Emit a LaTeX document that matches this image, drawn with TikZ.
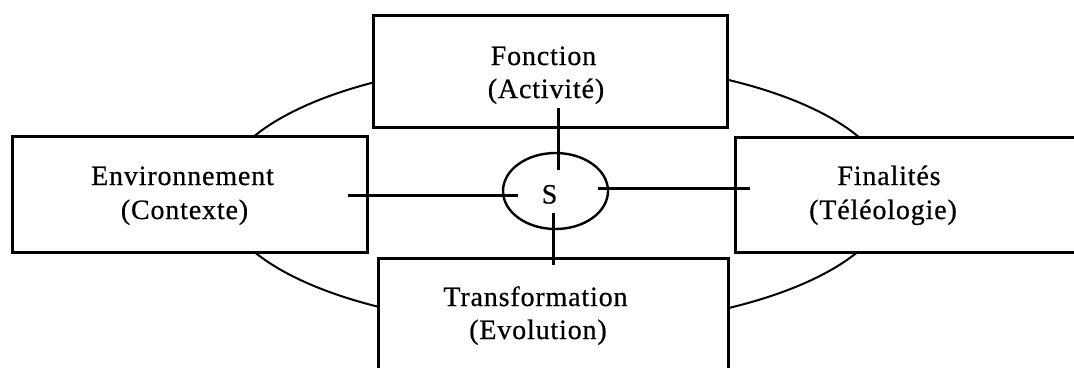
\documentclass[tikz,border=0pt]{standalone}
\usepackage{fontspec}
\setmainfont{Liberation Serif}[LetterSpace=3,FakeBold=0.6]
\usetikzlibrary{shapes.geometric}
\begin{document}
\begin{tikzpicture}[x=1pt,y=-1pt,
  boxline/.style={draw=black,line width=3pt,fill=white},
  bigring/.style={draw=black,line width=2pt},
  link/.style={draw=black,line width=3pt},
  lbl/.style={anchor=base,inner sep=0pt,font=\fontsize{28}{34}\selectfont}]
\useasboundingbox (0,0) rectangle (1074,367);
\clip (0,0) rectangle (1074,367);
\fill[white] (0,0) rectangle (1074,367);
% outer ellipse
\node[bigring,ellipse,minimum width=670pt,minimum height=266pt,inner sep=0pt] (ring) at (556,194) {};
% boxes
\draw[boxline] (12.7,136.7) rectangle (367,252) node[pos=0.5] (env) {};
\draw[boxline] (373.5,15) rectangle (727,127) node[pos=0.5] (fonc) {};
\draw[boxline] (378,258) rectangle (728,400) node[pos=0.5] (trans) {};
\draw[boxline] (735,137) rectangle (1100,252) node[pos=0.5] (fin) {};
% centre ellipse
\node[draw=black,line width=2.4pt,ellipse,minimum width=105pt,minimum height=76pt,inner sep=0pt] (s) at (555.5,191) {};
% connector end points
\coordinate (envEnd) at (348,195);
\coordinate (sLeft) at (518,195);
\coordinate (sRight) at (598,188);
\coordinate (finEnd) at (750,188);
\coordinate (foncEnd) at (558,108);
\coordinate (sTop) at (558,170);
\coordinate (sBottom) at (553,213);
\coordinate (transEnd) at (553,265);
\draw[link] (envEnd) -- (sLeft);
\draw[link] (sRight) -- (finEnd);
\draw[link] (foncEnd) -- (sTop);
\draw[link] (sBottom) -- (transEnd);
% labels
\node[lbl] (t1) at (182.5,185) {Environnement};
\node[lbl] (t2) at (184.5,219) {(Contexte)};
\node[lbl] (t3) at (543.5,65) {Fonction};
\node[lbl] (t4) at (546,98) {(Activité)};
\node[lbl] (t5) at (889,185) {Finalités};
\node[lbl] (t6) at (883,219) {(Téléologie)};
\node[lbl] (t7) at (535.5,306) {Transformation};
\node[lbl] (t8) at (538,339) {(Evolution)};
\node[lbl] (t9) at (549.5,203.5) {S};
\end{tikzpicture}
\end{document}
